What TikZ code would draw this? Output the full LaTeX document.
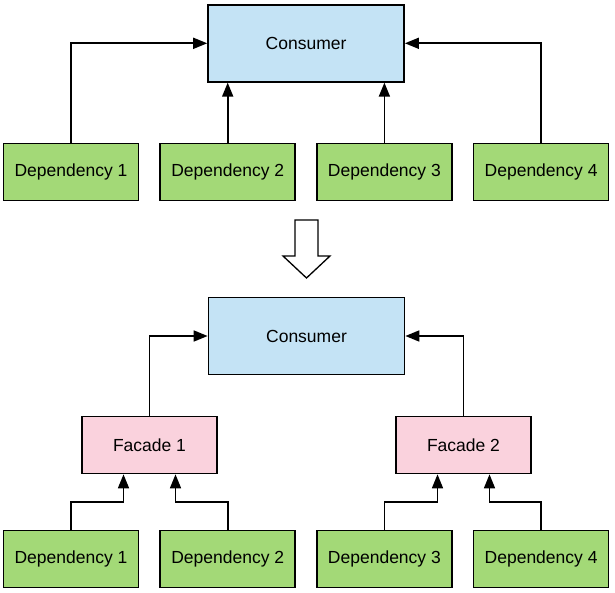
\documentclass[tikz,border=0pt]{standalone}
\usepackage{fontspec}
\setmainfont{Liberation Sans}
\usepackage{xcolor}
\usetikzlibrary{calc}
\usetikzlibrary{positioning}
\usetikzlibrary{arrows.meta}

\definecolor{consumerblue}{RGB}{196,227,245}
\definecolor{depgreen}{RGB}{163,217,119}
\definecolor{facadepink}{RGB}{250,210,221}

\begin{document}
\begin{tikzpicture}[x=1pt, y=1pt,
    every node/.style={font=\fontsize{17.5}{20}\selectfont},
    box/.style={draw, line width=1.7pt, inner sep=0pt,
        minimum width=135pt, minimum height=57pt},
    consumer/.style={box, fill=consumerblue, minimum width=196pt, minimum height=77pt},
    dep/.style={box, fill=depgreen},
    facade/.style={box, fill=facadepink},
    link/.style={line width=1.7pt, -{Triangle[length=14pt,width=11pt]}}]

        \useasboundingbox (0,0) rectangle (615,-593);

        \def\g{20pt}
        \def\e{26pt}

        % Before: every dependency goes straight to the consumer
        \node (D1) [dep] at (71,-172) {Dependency 1};
        \node (D2) [dep, right=\g of D1] {Dependency 2};
        \node (D3) [dep, right=\g of D2] {Dependency 3};
        \node (D4) [dep, right=\g of D3] {Dependency 4};
        \node (C1) [consumer, above=60pt of $(D2.north)!0.5!(D3.north)$,
            anchor=south] {Consumer};

        % Hollow arrow between the two versions
        \draw [line width=1.3pt, fill=white, line join=miter]
            (295,-220) -- (318,-220) -- (318,-256) -- (330,-256)
            -- (306.5,-278) -- (283,-256) -- (295,-256) -- cycle;

        % After: facades in between
        \node (C2) [consumer] at (306.5,-336) {Consumer};
        \node (F1) [facade] at (149.5,-445) {Facade 1};
        \node (F2) [facade] at (463.5,-445) {Facade 2};
        \node (E1) [dep] at (71,-559) {Dependency 1};
        \node (E2) [dep, right=\g of E1] {Dependency 2};
        \node (E3) [dep, right=\g of E2] {Dependency 3};
        \node (E4) [dep, right=\g of E3] {Dependency 4};

        \begin{scope}[link]
            \draw (D1.north) |- (C1.west);
            \draw (D2.north) -- (D2.north |- C1.south);
            \draw (D3.north) -- (D3.north |- C1.south);
            \draw (D4.north) |- (C1.east);

            \draw (F1.north) |- (C2.west);
            \draw (F2.north) |- (C2.east);

            \draw (E1.north) -- ++(0,28) -| ([xshift=-\e]F1.south);
            \draw (E2.north) -- ++(0,28) -| ([xshift=\e]F1.south);
            \draw (E3.north) -- ++(0,28) -| ([xshift=-\e]F2.south);
            \draw (E4.north) -- ++(0,28) -| ([xshift=\e]F2.south);
        \end{scope}

\end{tikzpicture}
\end{document}
